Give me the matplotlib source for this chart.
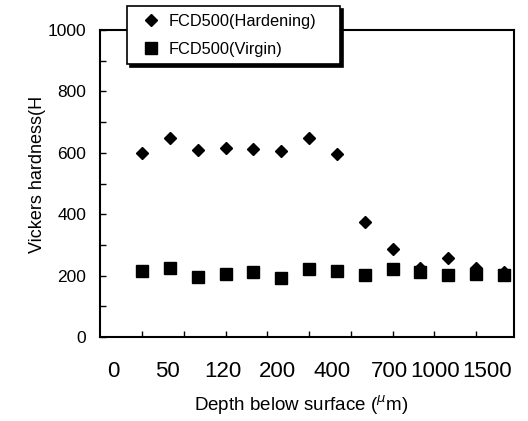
import matplotlib
matplotlib.use("Agg")
import matplotlib.pyplot as plt
from matplotlib.ticker import FixedLocator, MultipleLocator

plt.rcParams['font.family'] = ['Liberation Sans', 'DejaVu Sans']

# ---- data ----
depth_labels = ["0", "50", "120", "200", "400", "700", "1000", "1500"]
point_index = list(range(1, 15))
hardening = [598, 649, 608, 616, 612, 606, 647, 596, 376, 286, 225, 256, 225, 212]
virgin = [216, 226, 194, 204, 213, 191, 222, 214, 202, 222, 213, 203, 205, 202]

# ---- layout ----
label_pos = [-0.04, 1.93, 3.91, 5.88, 7.82, 9.88, 11.52, 13.4]
minor_pos = [1 + 1.5 * k for k in range(9)]

fig = plt.figure(figsize=(5.28, 4.21), dpi=100)
ax = fig.add_axes([100 / 528, 1 - 337 / 421, 414 / 528, 307 / 421])

ax.plot(point_index, hardening, linestyle='none', marker='D', markersize=6.2,
        color='black', label='FCD500(Hardening)', zorder=3)
ax.plot(point_index, virgin, linestyle='none', marker='s', markersize=8.5,
        color='black', label='FCD500(Virgin)', zorder=4)

ax.set_xlim(-0.51, 14.36)
ax.set_ylim(0, 1000)

for s in ax.spines.values():
    s.set_linewidth(1.5)
    s.set_color('black')

ax.yaxis.set_major_locator(MultipleLocator(200))
ax.yaxis.set_minor_locator(MultipleLocator(100))
ax.tick_params(axis='y', which='both', direction='in', length=4, width=1,
               labelsize=12.5, pad=10)

ax.xaxis.set_major_locator(FixedLocator(label_pos))
ax.set_xticklabels(depth_labels)
ax.xaxis.set_minor_locator(FixedLocator(minor_pos))
ax.tick_params(axis='x', which='major', length=0, labelsize=16, pad=17)
ax.tick_params(axis='x', which='minor', direction='in', length=4, width=1)

ax.set_xlabel(r'Depth below surface ($^{\mu}$m)', fontsize=13.5)
ax.xaxis.set_label_coords(0.486, -0.185)
ax.set_ylabel('Vickers hardness(H', fontsize=13)
ax.yaxis.set_label_coords(-0.13, 0.528)

leg = ax.legend(loc='lower left', mode='expand',
                bbox_to_anchor=(127 / 528, 1 - 64 / 421, 213 / 528, 57 / 421),
                bbox_transform=fig.transFigure, fontsize=11.8,
                frameon=True, fancybox=False, edgecolor='black',
                borderpad=0.45, labelspacing=0.8, handlelength=2.0,
                handletextpad=0.1, borderaxespad=0,
                shadow={'facecolor': 'black', 'edgecolor': 'black', 'alpha': 1})
leg.get_frame().set_linewidth(1.2)
leg.get_frame().set_alpha(1)
leg.set_zorder(10)

fig.savefig('out.png', dpi=100)
